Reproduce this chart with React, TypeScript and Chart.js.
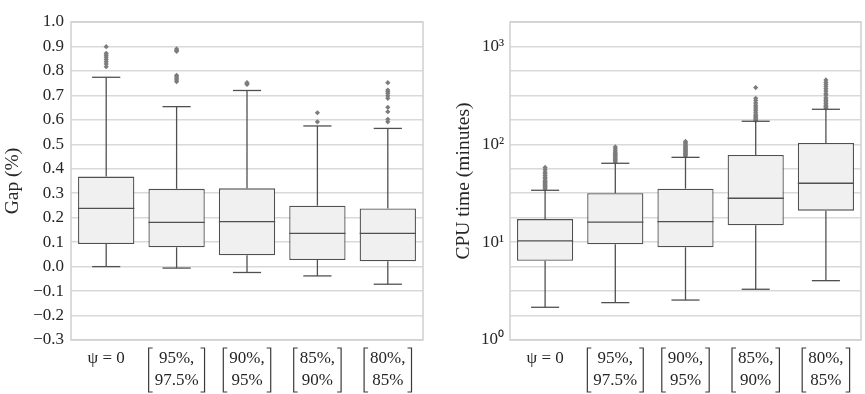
import React, { useEffect, useRef } from 'react';
import { Chart, registerables } from 'chart.js';

Chart.register(...registerables);

// ---------- data ----------
const categories: (string | string[])[] = ['ψ = 0', ['95%,', '97.5%'], ['90%,', '95%'], ['85%,', '90%'], ['80%,', '85%']];
const categoryIndex = [0, 1, 2, 3, 4];

// Gap (%)
const gapLow = [0.0, -0.006, -0.024, -0.038, -0.072];
const gapQ1 = [0.092, 0.079, 0.046, 0.027, 0.022];
const gapMedian = [0.238, 0.181, 0.184, 0.136, 0.136];
const gapQ3 = [0.368, 0.318, 0.320, 0.249, 0.238];
const gapHigh = [0.774, 0.654, 0.720, 0.575, 0.565];
const gapOutliers = [
  [0.817, 0.828, 0.838, 0.847, 0.856, 0.864, 0.872, 0.899],
  [0.756, 0.763, 0.770, 0.776, 0.782, 0.880, 0.885, 0.890],
  [0.745, 0.750, 0.752],
  [0.592, 0.629],
  [0.592, 0.602, 0.633, 0.651, 0.688, 0.698, 0.708, 0.715, 0.722, 0.752],
];
const gapTicks = { min: -0.3, max: 1.0, step: 0.1 };

// CPU time (minutes)
const cpuLow = [2.16, 2.41, 2.56, 3.3, 4.04];
const cpuQ1 = [6.46, 9.5, 8.86, 14.9, 21.0];
const cpuMedian = [10.3, 16.0, 16.2, 28.1, 40.0];
const cpuQ3 = [17.2, 31.6, 35.2, 77.8, 103];
const cpuHigh = [33.9, 64, 73.6, 172, 228];
const cpuOutliers = [
  [35, 36, 37, 38, 39, 40, 41, 42, 43, 45, 46, 48, 50, 52, 55, 58],
  [66, 68, 70, 72, 74, 76, 78, 80, 83, 86, 90, 94],
  [76, 78, 80, 82, 84, 86, 88, 90, 92, 95, 98, 101, 104, 107],
  [175, 180, 185, 190, 195, 200, 210, 220, 230, 240, 250, 265, 280, 295, 380],
  [235, 240, 245, 250, 260, 270, 280, 290, 300, 320, 330, 350, 370, 390, 410, 430, 455],
];
const cpuQuarterDecades = [0, 1, 2, 3, 4, 5, 6, 7, 8, 9, 10, 11, 12, 13];
const superscripts = ['⁰', '¹', '²', '³'];

// ---------- styles ----------
const FONT = "'Liberation Serif', 'Times New Roman', serif";
const TEXT = '#262626';
const EDGE = '#505050';
const FILL = '#f0f0f0';
const GRID = '#d9d9d9';
const FLIER = '#7c7c7c';

function boxPlugin(low: number[], q1: number[], med: number[], q3: number[], high: number[]) {
  return {
    id: 'boxparts',
    beforeDatasetsDraw(chart: any) {
      const { ctx, chartArea } = chart;
      ctx.save();
      ctx.strokeStyle = '#cfcfcf';
      ctx.lineWidth = 1.5;
      ctx.strokeRect(chartArea.left, chartArea.top, chartArea.right - chartArea.left, chartArea.bottom - chartArea.top);
      ctx.restore();
    },
    afterDatasetsDraw(chart: any) {
      const { ctx } = chart;
      const y = chart.scales.y;
      const meta = chart.getDatasetMeta(0);
      ctx.save();
      ctx.strokeStyle = EDGE;
      ctx.lineWidth = 1.3;
      meta.data.forEach((el: any, i: number) => {
        const x = el.x;
        const w = el.width;
        const seg = (x1: number, y1: number, x2: number, y2: number) => {
          ctx.beginPath();
          ctx.moveTo(x1, y1);
          ctx.lineTo(x2, y2);
          ctx.stroke();
        };
        const pLow = y.getPixelForValue(low[i]);
        const pQ1 = y.getPixelForValue(q1[i]);
        const pMed = y.getPixelForValue(med[i]);
        const pQ3 = y.getPixelForValue(q3[i]);
        const pHigh = y.getPixelForValue(high[i]);
        seg(x, pQ1, x, pLow);
        seg(x, pQ3, x, pHigh);
        seg(x - w / 4, pLow, x + w / 4, pLow);
        seg(x - w / 4, pHigh, x + w / 4, pHigh);
        seg(x - w / 2, pMed, x + w / 2, pMed);
      });
      ctx.restore();
    },
    afterDraw(chart: any) {
      // matrix brackets around two-line category labels
      const { ctx } = chart;
      const xs = chart.scales.x;
      ctx.save();
      ctx.font = `17px ${FONT}`;
      ctx.strokeStyle = '#3a3a3a';
      ctx.lineWidth = 1.2;
      categories.forEach((lab, i) => {
        if (!Array.isArray(lab)) return;
        const w = Math.max(...lab.map((s) => ctx.measureText(s).width));
        const cx = xs.getPixelForValue(categoryIndex[i]);
        const l = cx - w / 2 - 6;
        const r = cx + w / 2 + 6;
        const t = xs.top + 8;
        const b = xs.top + 52;
        ctx.beginPath();
        ctx.moveTo(l + 4, t); ctx.lineTo(l, t); ctx.lineTo(l, b); ctx.lineTo(l + 4, b);
        ctx.moveTo(r - 4, t); ctx.lineTo(r, t); ctx.lineTo(r, b); ctx.lineTo(r - 4, b);
        ctx.stroke();
      });
      ctx.restore();
    },
  };
}

function makeConfig(kind: 'gap' | 'cpu'): any {
  const isGap = kind === 'gap';
  const low = isGap ? gapLow : cpuLow;
  const q1 = isGap ? gapQ1 : cpuQ1;
  const med = isGap ? gapMedian : cpuMedian;
  const q3 = isGap ? gapQ3 : cpuQ3;
  const high = isGap ? gapHigh : cpuHigh;
  const outs = isGap ? gapOutliers : cpuOutliers;
  const flierPoints: { x: number; y: number }[] = [];
  outs.forEach((arr, i) => arr.forEach((v) => flierPoints.push({ x: categoryIndex[i], y: v })));

  const titleFont = { family: FONT, size: 19.5, lineHeight: 1.2 };

  const yScale: any = isGap
    ? {
        type: 'linear',
        min: gapTicks.min,
        max: gapTicks.max,
        ticks: {
          stepSize: gapTicks.step,
          padding: 7,
          color: TEXT,
          font: { family: FONT, size: 17 },
          callback: (v: number) => {
            const s = (Math.abs(v) < 1e-9 ? 0 : v).toFixed(1);
            return s.replace('-', '−');
          },
        },
        grid: { color: GRID, lineWidth: 1.6, drawTicks: false },
        border: { display: false },
        title: {
          display: true,
          text: 'Gap (%)',
          color: TEXT,
          font: titleFont,
          padding: { top: 1, bottom: 0 },
        },
        afterFit: (s: any) => {
          s.width = 71;
        },
      }
    : {
        type: 'logarithmic',
        min: 1,
        max: Math.pow(10, 3.25),
        afterBuildTicks: (s: any) => {
          s.ticks = cpuQuarterDecades.map((k) => ({ value: Math.pow(10, k / 4) }));
        },
        ticks: {
          padding: 6,
          color: TEXT,
          autoSkip: false,
          font: { family: FONT, size: 17 },
          callback: (v: number) => {
            const lg = Math.log10(v);
            const r = Math.round(lg);
            if (Math.abs(lg - r) < 1e-6) return '10' + superscripts[r];
            return '';
          },
        },
        grid: { color: GRID, lineWidth: 1.6, drawTicks: false },
        border: { display: false },
        title: {
          display: true,
          text: 'CPU time (minutes)',
          color: TEXT,
          font: titleFont,
          padding: { top: 20, bottom: 0 },
        },
        afterFit: (s: any) => {
          s.width = 78;
        },
      };

  return {
    type: 'bar',
    data: {
      datasets: [
        {
          type: 'bar',
          data: categoryIndex.map((c, i) => ({ x: c, y: [q1[i], q3[i]] })),
          backgroundColor: FILL,
          borderColor: EDGE,
          borderWidth: 1.3,
          borderSkipped: false,
          categoryPercentage: 0.8,
          barPercentage: 1.0,
          grouped: false,
        },
        {
          type: 'scatter',
          data: flierPoints,
          showLine: false,
          pointStyle: 'rectRot',
          pointRadius: 2.6,
          pointBackgroundColor: FLIER,
          pointBorderColor: FLIER,
          pointBorderWidth: 0,
        },
      ],
    },
    options: {
      responsive: false,
      animation: false,
      layout: { padding: { left: 0, right: isGap ? 9 : 3, top: 22, bottom: 0 } },
      plugins: { legend: { display: false }, tooltip: { enabled: false } },
      scales: {
        x: {
          type: 'linear',
          min: -0.5,
          max: categories.length - 0.5,
          offset: false,
          afterBuildTicks: (s: any) => {
            s.ticks = categoryIndex.map((v) => ({ value: v }));
          },
          grid: { display: false, drawTicks: false },
          border: { display: false },
          ticks: {
            padding: 7,
            color: TEXT,
            maxRotation: 0,
            autoSkip: false,
            font: { family: FONT, size: 17, lineHeight: 1.3 },
            callback: (v: number) => categories[Math.round(v)] ?? '',
          },
          afterFit: (s: any) => {
            s.height = 54;
          },
        },
        y: yScale,
      },
    },
    plugins: [boxPlugin(low, q1, med, q3, high)],
  };
}

function BoxChart({ kind, width, height }: { kind: 'gap' | 'cpu'; width: number; height: number }) {
  const ref = useRef<HTMLCanvasElement | null>(null);
  useEffect(() => {
    if (!ref.current) return;
    const chart = new Chart(ref.current, makeConfig(kind));
    return () => chart.destroy();
  }, [kind]);
  return <canvas ref={ref} width={width} height={height} style={{ width, height, display: 'block' }} />;
}

export default function App() {
  return (
    <div style={{ position: 'fixed', left: 0, top: 0, width: 865, height: 394, background: '#fff' }}>
      <div style={{ position: 'absolute', left: 0, top: 0, width: 432, height: 394 }}>
        <BoxChart kind="gap" width={432} height={394} />
      </div>
      <div style={{ position: 'absolute', left: 432, top: 0, width: 433, height: 394 }}>
        <BoxChart kind="cpu" width={433} height={394} />
      </div>
    </div>
  );
}
